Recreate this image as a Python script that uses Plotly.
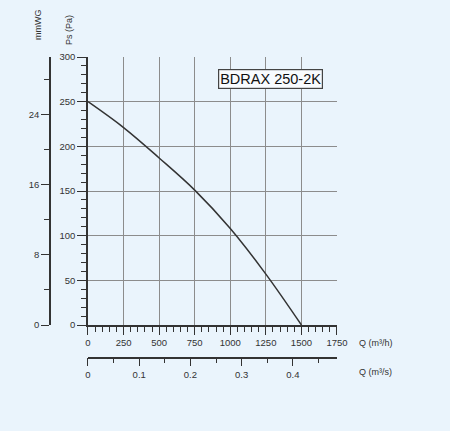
import plotly.graph_objects as go

# fan curve
flow_m3h = [0, 250, 500, 750, 1000, 1250, 1500]
static_pa = [250, 221, 187, 151, 108, 57, 0]

x_ticks = [0, 250, 500, 750, 1000, 1250, 1500, 1750]
y_ticks = [0, 50, 100, 150, 200, 250, 300]
mmwg_ticks = [0, 8, 16, 24]
m3s_ticks = [0, 0.1, 0.2, 0.3, 0.4]

model_name = "BDRAX 250-2K"

PA_PER_MMWG = 9.80665
bg = "#eaf4fc"
ink = "#333333"
grid = "#8c8c8c"
tick_font = dict(family="Liberation Sans, Arial", size=9.5, color=ink)

flow_m3s = [q / 3600 for q in flow_m3h]
static_mmwg = [p / PA_PER_MMWG for p in static_pa]

fig = go.Figure()
fig.add_trace(go.Scatter(x=flow_m3h, y=static_pa, mode="lines",
                         line=dict(color=ink, width=1.5, shape="spline"),
                         hoverinfo="skip", showlegend=False))
# invisible copies so the secondary scales get drawn
fig.add_trace(go.Scatter(x=flow_m3s, y=static_pa, xaxis="x2", yaxis="y", mode="lines",
                         line=dict(width=0), hoverinfo="skip", showlegend=False))
fig.add_trace(go.Scatter(x=flow_m3h, y=static_mmwg, xaxis="x", yaxis="y2", mode="lines",
                         line=dict(width=0), hoverinfo="skip", showlegend=False))

fig.update_layout(
    width=450, height=431,
    margin=dict(l=20, r=113, t=57, b=40),
    paper_bgcolor=bg, plot_bgcolor=bg,
    xaxis=dict(domain=[0.2145, 1], range=[0, 1750], tickvals=x_ticks,
               ticks="outside", ticklen=8, tickcolor=ink, tickwidth=1.2,
               minor=dict(dtick=50, tick0=0, ticks="outside", ticklen=5, tickcolor=ink, tickwidth=1.2, showgrid=False),
               showline=True, linecolor=ink, linewidth=1.5,
               showgrid=True, gridcolor=grid, gridwidth=1, zeroline=False,
               tickfont=tick_font, anchor="y"),
    xaxis2=dict(overlaying="x", anchor="free", position=0.0997, side="bottom",
                range=[0, 1750 / 3600], tickvals=m3s_ticks,
                ticks="outside", ticklen=8, tickcolor=ink, tickwidth=1.2,
                minor=dict(dtick=0.05, tick0=0, ticks="outside", ticklen=5, tickcolor=ink, tickwidth=1.2),
                showline=True, linecolor=ink, linewidth=1.5,
                showgrid=False, zeroline=False, tickfont=tick_font),
    yaxis=dict(domain=[0.1976, 1], range=[0, 300], tickvals=y_ticks,
               ticks="outside", ticklen=9, tickcolor=ink, tickwidth=1.2,
               minor=dict(dtick=10, tick0=0, ticks="outside", ticklen=5, tickcolor=ink, tickwidth=1.2, showgrid=False),
               showline=True, linecolor=ink, linewidth=1.5,
               showgrid=True, gridcolor=grid, gridwidth=1, zeroline=False,
               tickfont=tick_font, anchor="x"),
    yaxis2=dict(overlaying="y", anchor="free", position=0.0946, side="left",
                range=[0, 300 / PA_PER_MMWG], tickvals=mmwg_ticks,
                ticks="outside", ticklen=8, tickcolor=ink, tickwidth=1.2,
                minor=dict(dtick=4, tick0=0, ticks="outside", ticklen=5, tickcolor=ink, tickwidth=1.2),
                showline=True, linecolor=ink, linewidth=1.5,
                showgrid=False, zeroline=False, tickfont=tick_font),
)

label_font = dict(family="Liberation Sans, Arial", size=9, color=ink)
centred = dict(xref="paper", yref="paper", xanchor="center", yanchor="middle", showarrow=False)
fig.add_annotation(x=0.0568, y=1.0958, text="mmWG", textangle=-90, font=label_font, **centred)
fig.add_annotation(x=0.1546, y=1.081, text="Ps (Pa)", textangle=-90, font=label_font, **centred)
fig.add_annotation(x=1.123, y=0.1437, text="Q (m³/h)", font=label_font, **centred)
fig.add_annotation(x=1.123, y=0.0569, text="Q (m³/s)", font=label_font, **centred)
fig.add_annotation(x=0.79, y=0.934, text=model_name,
                   font=dict(family="Liberation Sans, Arial", size=14.5, color="#111111"),
                   bgcolor="#f8fbfe", bordercolor="#444444", borderwidth=1.2, borderpad=1, **centred)

fig.write_html("out.html", config={"displayModeBar": False},
               post_script="document.body.style.margin='0';document.body.style.background='#eaf4fc';")
